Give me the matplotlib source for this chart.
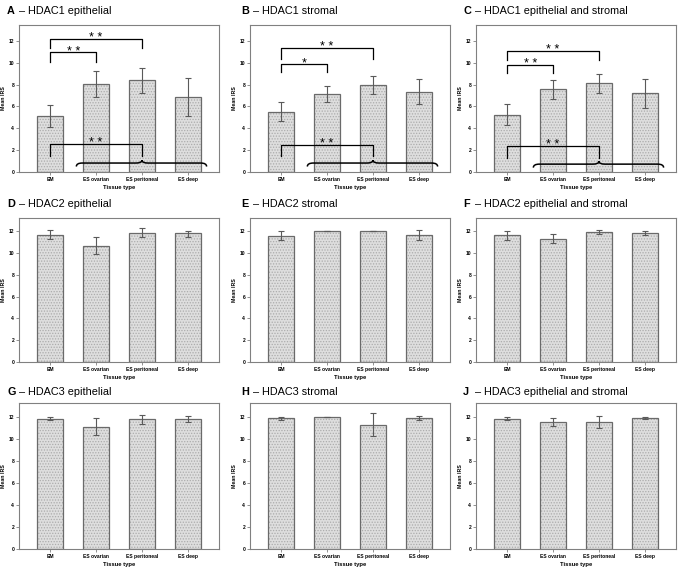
import numpy as np
import matplotlib
matplotlib.use("Agg")
import matplotlib.pyplot as plt
from matplotlib.path import Path
from matplotlib.patches import PathPatch

plt.rcParams['font.family'] = ['Liberation Sans', 'DejaVu Sans']
plt.rcParams['hatch.linewidth'] = 0.6

# categories shared by every panel
categories = ['EM', 'ES ovarian', 'ES peritoneal', 'ES deep']

# panel letters and titles
letters = ['A', 'B', 'C', 'D', 'E', 'F', 'G', 'H', 'J']
titles = ['HDAC1 epithelial', 'HDAC1 stromal', 'HDAC1 epithelial and stromal',
          'HDAC2 epithelial', 'HDAC2 stromal', 'HDAC2 epithelial and stromal',
          'HDAC3 epithelial', 'HDAC3 stromal', 'HDAC3 epithelial and stromal']

# mean IRS per panel
mean_a = [5.15, 8.03, 8.4, 6.87]
mean_b = [5.5, 7.13, 7.95, 7.35]
mean_c = [5.25, 7.55, 8.1, 7.2]
mean_d = [11.66, 10.65, 11.85, 11.78]
mean_e = [11.57, 12.0, 12.0, 11.63]
mean_f = [11.6, 11.3, 11.9, 11.85]
mean_g = [11.88, 11.14, 11.82, 11.85]
mean_h = [11.94, 12.0, 11.33, 11.94]
mean_j = [11.88, 11.57, 11.57, 11.9]

# error bar lower ends
low_a = [4.1, 6.84, 7.25, 5.1]
low_b = [4.66, 6.4, 7.16, 6.2]
low_c = [4.3, 6.69, 7.25, 5.82]
low_d = [11.26, 9.86, 11.45, 11.5]
low_e = [11.14, 12.0, 12.0, 11.17]
low_f = [11.2, 10.9, 11.7, 11.66]
low_g = [11.72, 10.35, 11.42, 11.6]
low_h = [11.79, 12.0, 10.29, 11.76]
low_j = [11.76, 11.18, 11.0, 11.8]

# error bar upper ends
high_a = [6.12, 9.23, 9.5, 8.6]
high_b = [6.37, 7.88, 8.78, 8.5]
high_c = [6.2, 8.45, 8.93, 8.54]
high_d = [12.06, 11.48, 12.24, 12.03]
high_e = [12.03, 12.0, 12.0, 12.09]
high_f = [12.03, 11.76, 12.09, 12.03]
high_g = [12.06, 11.97, 12.24, 12.12]
high_h = [12.06, 12.0, 12.37, 12.09]
high_j = [12.0, 11.97, 12.12, 12.0]

# significance brackets: (from, to, top, leg end, stars)
sig_a = [(0, 1, 10.95, 10.1, '**'), (0, 2, 12.2, 11.3, '**'), (0, 2, 2.6, 1.5, '**')]
sig_b = [(0, 1, 9.9, 9.14, '*'), (0, 2, 11.33, 10.36, '**'), (0, 2, 2.5, 1.46, '**')]
sig_c = [(0, 1, 9.79, 9.04, '**'), (0, 2, 11.1, 10.24, '**'), (0, 2, 2.36, 1.31, '**')]

# curly brace grouping the ES types: (left, tip, right, level)
brace_a = (0.57, 2.0, 3.41, 0.82)
brace_b = (0.57, 2.0, 3.41, 0.82)
brace_c = (0.57, 2.0, 3.41, 0.72)

means = [mean_a, mean_b, mean_c, mean_d, mean_e, mean_f, mean_g, mean_h, mean_j]
lows = [low_a, low_b, low_c, low_d, low_e, low_f, low_g, low_h, low_j]
highs = [high_a, high_b, high_c, high_d, high_e, high_f, high_g, high_h, high_j]
sigs = [sig_a, sig_b, sig_c] + [[]] * 6
braces = [brace_a, brace_b, brace_c] + [None] * 6

fig = plt.figure(figsize=(6.8, 5.68), dpi=100)

col_left = [19 / 680, 250 / 680, 476 / 680]
col_title = [7 / 680, 241 / 680, 463 / 680]
row_bottom = [1 - 172 / 568, 1 - 362 / 568, 1 - 549 / 568]
row_height = [147 / 568, 144 / 568, 146 / 568]
row_title = [1 - 11 / 568, 1 - 204 / 568, 1 - 392 / 568]
row_ymax = [13.45, 13.2, 13.3]


def draw_brace(ax, left, tip, right, y, drop=0.32, rise=0.26, d=0.13):
    verts = [(left, y - drop), (left, y), (left + d, y),
             (tip - d, y), (tip, y), (tip, y + rise),
             (tip, y), (tip + d, y),
             (right - d, y), (right, y), (right, y - drop)]
    codes = [Path.MOVETO, Path.CURVE3, Path.CURVE3,
             Path.LINETO, Path.CURVE3, Path.CURVE3,
             Path.CURVE3, Path.CURVE3,
             Path.LINETO, Path.CURVE3, Path.CURVE3]
    ax.add_patch(PathPatch(Path(verts, codes), fill=False, lw=1.1, color='black'))


x = np.arange(len(categories))
for k in range(9):
    r, c = divmod(k, 3)
    ax = fig.add_axes([col_left[c], row_bottom[r], 200 / 680, row_height[r]])
    m = np.array(means[k])
    lo = np.array(lows[k])
    hi = np.array(highs[k])

    ax.bar(x, m, width=0.58, color='#dedede', edgecolor='#acacac', hatch='......', linewidth=0)
    ax.bar(x, m, width=0.58, fill=False, edgecolor='#6a6a6a', linewidth=0.9)
    ax.errorbar(x, m, yerr=[m - lo, hi - m], fmt='none', ecolor='#5a5a5a',
                elinewidth=0.8, capsize=2.2, capthick=0.8)

    for a, b, top, leg, star in sigs[k]:
        ax.plot([a, a, b, b], [leg, top, top, leg], color='black', lw=0.9)
        ax.text((a + b) / 2, top - 0.2, star.replace('**', '* *'), ha='center',
                va='baseline', fontsize=9)
    if braces[k] is not None:
        draw_brace(ax, *braces[k])

    ax.set_xlim(-0.68, 3.68)
    ax.set_ylim(0, row_ymax[r])
    ax.set_yticks(range(0, 13, 2))
    ax.set_xticks(x)
    ax.set_xticklabels(categories)
    ax.tick_params(labelsize=3.6, length=2, width=0.5, pad=1.5, color='#666666')
    for lab in ax.get_xticklabels() + ax.get_yticklabels():
        lab.set_fontweight('bold')
    for sp in ax.spines.values():
        sp.set_color('#808080')
        sp.set_linewidth(0.8)
    ax.set_ylabel('Mean IRS', fontsize=3.8, fontweight='bold', labelpad=2)
    ax.set_xlabel('Tissue type', fontsize=4.2, fontweight='bold', labelpad=2)

    fig.text(col_title[c], row_title[r], letters[k], fontsize=7.8, fontweight='bold',
             va='center', ha='left')
    fig.text(col_title[c] + 9 / 680, row_title[r], ' \u2013 ' + titles[k], fontsize=7.8,
             va='center', ha='left')

fig.savefig('out.png', dpi=100)
